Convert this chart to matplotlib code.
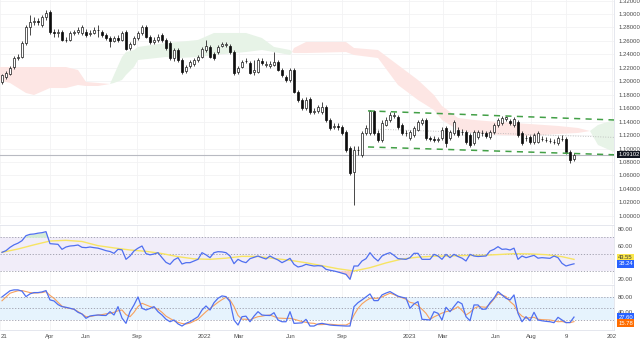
import numpy as np
import matplotlib
matplotlib.use("Agg")
import matplotlib.pyplot as plt
from matplotlib.transforms import blended_transform_factory as blend, offset_copy

plt.rcParams['font.family'] = ['Liberation Sans', 'DejaVu Sans']

# ---------------- data (weekly candles) ----------------
opens = [
1.1990, 1.2064, 1.2108, 1.2212, 1.2346, 1.2361, 1.2569, 1.2807, 1.2881, 1.2896,
1.2837, 1.2955, 1.3030, 1.2733, 1.2718, 1.2733, 1.2614, 1.2614, 1.2718, 1.2733,
1.2718, 1.2733, 1.2703, 1.2718, 1.2762, 1.2733, 1.2688, 1.2643, 1.2599, 1.2643,
1.2614, 1.2733, 1.2495, 1.2554, 1.2643, 1.2718, 1.2807, 1.2658, 1.2584, 1.2614,
1.2688, 1.2614, 1.2569, 1.2346, 1.2465, 1.2316, 1.2153, 1.2227, 1.2257, 1.2316,
1.2361, 1.2465, 1.2510, 1.2406, 1.2435, 1.2524, 1.2539, 1.2524, 1.2435, 1.2138,
1.2212, 1.2302, 1.2272, 1.2138, 1.2138, 1.2302, 1.2242, 1.2227, 1.2242, 1.2287,
1.2168, 1.2064, 1.2019, 1.2168, 1.1841, 1.1722, 1.1603, 1.1737, 1.1544, 1.1559,
1.1544, 1.1618, 1.1425, 1.1321, 1.1336, 1.1321, 1.1247, 1.1009, 1.0652, 1.0979,
1.0905, 1.1232, 1.1232, 1.1559, 1.1232, 1.1128, 1.1351, 1.1425, 1.1484, 1.1470,
1.1351, 1.1232, 1.1157, 1.1202, 1.1276, 1.1380, 1.1425, 1.1157, 1.1143, 1.1128,
1.1157, 1.1306, 1.1157, 1.1232, 1.1276, 1.1247, 1.1247, 1.1202, 1.1083, 1.1172,
1.1232, 1.1232, 1.1172, 1.1247, 1.1351, 1.1380, 1.1440, 1.1410, 1.1351, 1.1395,
1.1232, 1.1157, 1.1172, 1.1098, 1.1098, 1.1143, 1.1128, 1.1113, 1.1098, 1.1083,
1.1143, 1.1143, 1.0949, 1.0845]

closes = [
1.2094, 1.2123, 1.2198, 1.2346, 1.2361, 1.2569, 1.2807, 1.2881, 1.2896, 1.2881,
1.2955, 1.3015, 1.2733, 1.2718, 1.2733, 1.2614, 1.2610, 1.2718, 1.2733, 1.2762,
1.2807, 1.2688, 1.2718, 1.2762, 1.2755, 1.2688, 1.2643, 1.2599, 1.2643, 1.2614,
1.2718, 1.2480, 1.2554, 1.2643, 1.2718, 1.2807, 1.2658, 1.2584, 1.2614, 1.2658,
1.2614, 1.2495, 1.2346, 1.2465, 1.2316, 1.2138, 1.2212, 1.2287, 1.2316, 1.2361,
1.2480, 1.2524, 1.2361, 1.2346, 1.2510, 1.2554, 1.2554, 1.2435, 1.2123, 1.2198,
1.2287, 1.2298, 1.2123, 1.2168, 1.2316, 1.2272, 1.2257, 1.2257, 1.2287, 1.2168,
1.2094, 1.2019, 1.2168, 1.1841, 1.1722, 1.1603, 1.1722, 1.1544, 1.1559, 1.1618,
1.1618, 1.1425, 1.1306, 1.1336, 1.1321, 1.1232, 1.0979, 1.0637, 1.0979, 1.0975,
1.1232, 1.1306, 1.1559, 1.1232, 1.1128, 1.1380, 1.1425, 1.1499, 1.1499, 1.1321,
1.1232, 1.1228, 1.1247, 1.1306, 1.1395, 1.1425, 1.1157, 1.1143, 1.1128, 1.1132,
1.1276, 1.1083, 1.1247, 1.1395, 1.1202, 1.1243, 1.1098, 1.1053, 1.1247, 1.1247,
1.1228, 1.1187, 1.1247, 1.1351, 1.1425, 1.1455, 1.1470, 1.1380, 1.1440, 1.1202,
1.1083, 1.1153, 1.1098, 1.1202, 1.1232, 1.1139, 1.1124, 1.1109, 1.1094, 1.1157,
1.1139, 1.0949, 1.0830, 1.0910]

highs = [
1.2108, 1.2153, 1.2227, 1.2376, 1.2406, 1.2599, 1.2837, 1.2985, 1.2955, 1.2941,
1.2985, 1.3059, 1.3059, 1.2777, 1.2777, 1.2762, 1.2658, 1.2747, 1.2762, 1.2807,
1.2837, 1.2777, 1.2762, 1.2807, 1.2837, 1.2762, 1.2718, 1.2673, 1.2673, 1.2688,
1.2747, 1.2762, 1.2584, 1.2673, 1.2747, 1.2837, 1.2837, 1.2688, 1.2658, 1.2703,
1.2718, 1.2643, 1.2599, 1.2495, 1.2495, 1.2346, 1.2242, 1.2316, 1.2346, 1.2391,
1.2510, 1.2614, 1.2539, 1.2435, 1.2539, 1.2584, 1.2584, 1.2554, 1.2465, 1.2227,
1.2316, 1.2346, 1.2302, 1.2316, 1.2346, 1.2346, 1.2302, 1.2302, 1.2435, 1.2316,
1.2198, 1.2094, 1.2198, 1.2198, 1.1871, 1.1752, 1.1767, 1.1767, 1.1603, 1.1648,
1.1692, 1.1648, 1.1455, 1.1380, 1.1380, 1.1351, 1.1276, 1.1038, 1.1038, 1.1038,
1.1261, 1.1351, 1.1573, 1.1573, 1.1276, 1.1425, 1.1470, 1.1544, 1.1544, 1.1499,
1.1380, 1.1276, 1.1276, 1.1336, 1.1425, 1.1455, 1.1455, 1.1187, 1.1187, 1.1172,
1.1321, 1.1336, 1.1276, 1.1425, 1.1321, 1.1291, 1.1276, 1.1232, 1.1276, 1.1276,
1.1276, 1.1261, 1.1276, 1.1380, 1.1455, 1.1484, 1.1484, 1.1440, 1.1470, 1.1425,
1.1261, 1.1202, 1.1202, 1.1232, 1.1261, 1.1187, 1.1172, 1.1157, 1.1143, 1.1187,
1.1202, 1.1172, 1.0979, 1.0934]

lows = [
1.1960, 1.2034, 1.2094, 1.2183, 1.2316, 1.2346, 1.2539, 1.2688, 1.2837, 1.2837,
1.2807, 1.2911, 1.2703, 1.2658, 1.2658, 1.2599, 1.2584, 1.2599, 1.2688, 1.2703,
1.2688, 1.2658, 1.2673, 1.2703, 1.2658, 1.2658, 1.2614, 1.2510, 1.2584, 1.2584,
1.2599, 1.2465, 1.2465, 1.2539, 1.2614, 1.2688, 1.2643, 1.2554, 1.2554, 1.2584,
1.2584, 1.2465, 1.2316, 1.2302, 1.2287, 1.2108, 1.2123, 1.2198, 1.2227, 1.2287,
1.2346, 1.2435, 1.2346, 1.2316, 1.2406, 1.2510, 1.2510, 1.2406, 1.2094, 1.2108,
1.2198, 1.2272, 1.2108, 1.2094, 1.2123, 1.2242, 1.2212, 1.2198, 1.2227, 1.2153,
1.2064, 1.1990, 1.1990, 1.1826, 1.1692, 1.1573, 1.1573, 1.1514, 1.1514, 1.1529,
1.1514, 1.1395, 1.1276, 1.1291, 1.1276, 1.1202, 1.0949, 1.0608, 1.0162, 1.0905,
1.0875, 1.1202, 1.1202, 1.1202, 1.1098, 1.1098, 1.1336, 1.1395, 1.1455, 1.1291,
1.1202, 1.1187, 1.1128, 1.1172, 1.1261, 1.1351, 1.1128, 1.1113, 1.1098, 1.1098,
1.1128, 1.1024, 1.1128, 1.1202, 1.1172, 1.1202, 1.1068, 1.1024, 1.1053, 1.1143,
1.1187, 1.1157, 1.1143, 1.1217, 1.1321, 1.1351, 1.1410, 1.1351, 1.1321, 1.1172,
1.1053, 1.1113, 1.1068, 1.1068, 1.1083, 1.1113, 1.1098, 1.1083, 1.1068, 1.1053,
1.1113, 1.0920, 1.0786, 1.0816]

last_price = 1.09102

# Ichimoku cloud (leading spans), sampled at bar positions
cloud_bars = [-1, 2, 6, 8, 12, 16, 19, 21, 24, 27, 28, 30, 31, 33, 34, 41, 44, 49, 53,
              61, 65, 68, 72, 72.5, 73, 76, 86, 88, 94, 99, 104, 108, 110, 114, 118,
              124, 132, 139, 144, 147, 149, 153]
lead_a = [1.2019, 1.1975, 1.1826, 1.1796, 1.1900, 1.1900, 1.1945, 1.1930, 1.1930, 1.1960,
          1.2094, 1.2361, 1.2435, 1.2465, 1.2510, 1.2569, 1.2584, 1.2614, 1.2718,
          1.2718, 1.2643, 1.2510, 1.2465, 1.2435, 1.2420, 1.2420, 1.2435, 1.2391, 1.2346,
          1.1945, 1.1722, 1.1573, 1.1425, 1.1276, 1.1232, 1.1202, 1.1187, 1.1217, 1.1232,
          1.1261, 1.1351, 1.1425]
lead_b = [1.2212, 1.2212, 1.2212, 1.2212, 1.2212, 1.2212, 1.2168, 1.1990, 1.1975, 1.1960,
          1.1975, 1.2019, 1.2094, 1.2212, 1.2316, 1.2361, 1.2346, 1.2361, 1.2391,
          1.2435, 1.2465, 1.2435, 1.2391, 1.2435, 1.2495, 1.2584, 1.2584, 1.2495, 1.2465,
          1.2242, 1.2019, 1.1796, 1.1633, 1.1455, 1.1425, 1.1395, 1.1365, 1.1336, 1.1306,
          1.1261, 1.1053, 1.0949]

# descending channel drawn on the chart
channel_bars = [91.5, 153]
channel_upper = [1.1560, 1.1425]
channel_lower = [1.1024, 1.0908]

# RSI and its moving average
rsi = [
52, 54, 58, 61, 63, 66, 72, 73.6, 74, 75,
75.6, 76.8, 62.4, 62, 61.6, 55.6, 58.4, 59.6, 60, 60.8,
58, 57.6, 58.4, 57.6, 57, 55.6, 54, 53, 50.8, 55.6,
55, 43.6, 47.6, 53.6, 57, 59.6, 50.4, 49, 50, 51.6,
45.6, 40, 37.6, 43, 45.6, 38, 39.6, 39.6, 41.6, 43.6,
51.6, 49, 45.6, 51.6, 52.8, 52.5, 51.6, 47.6, 38.4, 43.6,
41, 39.6, 44.4, 46, 47.6, 45.6, 44, 47.6, 45, 42.8,
39.6, 42, 44.8, 37.6, 34.4, 35.5, 37.6, 36.5, 35.6, 36,
35.6, 31.6, 30.5, 29.6, 28.4, 27, 25.6, 19.6, 35.6, 35.6,
41.6, 44.4, 51.6, 45.6, 41.6, 47.6, 50, 51.6, 48.4, 44.4,
44, 43.6, 45.6, 50.8, 50.8, 43.6, 43.6, 43.6, 49.6, 47.6,
43.6, 49.6, 45.6, 49.6, 47, 45, 41.6, 49.6, 47.6, 47,
47.3, 47.6, 53.6, 55.6, 58.8, 55.6, 56, 54.8, 57, 43.6,
47.6, 45.6, 47, 48.4, 45, 45.6, 45.2, 44.8, 47.6, 45.6,
38.8, 35.6, 37, 38.24]
rsi_ma_bars = [0, 4, 8, 12, 16, 20, 24, 28, 32, 36, 40, 44, 48, 52, 56, 60, 64, 68, 72,
               76, 80, 84, 88, 92, 96, 100, 104, 108, 112, 116, 120, 124, 128, 132,
               136, 140, 143]
rsi_ma = [52, 56, 61, 65.6, 66.4, 65, 60, 57.3, 54.8, 53.2, 50.5, 46.8, 44.2, 43.6, 45,
          47.2, 47, 44.6, 42.5, 39.5, 36, 32.3, 29.6, 33.6, 39.3, 44, 46.2, 47.4, 47.6,
          48.2, 48.4, 49.3, 50.4, 50.1, 49.2, 46.8, 43.55]

# Stochastic %K and %D
stoch_k = [
80, 88, 96, 98.3, 98.3, 95, 80.8, 88, 91.3, 91.3,
93, 96.5, 72.2, 69.6, 60, 54.7, 53, 50.5, 48, 40,
35.6, 24.4, 30.4, 32, 33, 32, 31.7, 41.6, 33, 54.7,
25, 11.3, 41.6, 59.1, 80, 50.5, 46, 50, 54.7, 41.6,
33, 22, 15.5, 20, 10, 4.3, 11.3, 15.5, 22, 28.6,
46, 56.5, 46, 65, 76.5, 82.6, 80.8, 67.8, 20, 6.9,
28.6, 30, 15.5, 30, 41.6, 33, 32, 31.7, 39, 20,
15.5, 15.5, 41.6, 11.3, 12, 12.5, 21.7, 4.3, 4.3, 9.5,
11.3, 9, 6.9, 6, 5.5, 5, 4.3, 4.3, 54.7, 65.1,
72.2, 80, 87.8, 70.4, 70.4, 85.2, 90, 93.8, 87.8, 82,
79.1, 77, 50.5, 61.7, 67.8, 21.7, 21, 20, 41.6, 37.4,
20, 53.1, 41.6, 55, 67.8, 62, 28.6, 18.1, 59.1, 59.1,
47.9, 48.4, 65, 76.5, 93.8, 85, 76.5, 72, 85.2, 37.4,
15.5, 28.6, 18.1, 40, 20, 18, 16.5, 15.5, 13, 27,
20, 13, 13.5, 27.6]
stoch_d = [
70, 80, 89.6, 93, 96, 96.5, 94, 91.3, 90, 90.5,
91.3, 93.8, 84, 76.5, 66, 56, 52, 50, 47.9, 42,
35.6, 28.6, 29, 31, 33, 34, 36, 37.4, 40, 44,
46, 34, 28.6, 40, 55, 63.5, 59.1, 55, 52, 48,
40, 30, 24, 18, 14, 11, 9.5, 12, 17, 22,
32, 41.6, 50, 58, 66, 73, 79.1, 72, 55, 32,
22, 22, 20, 25, 28.6, 30, 32, 33, 29, 25,
24.4, 24, 24.4, 22, 19, 16, 14, 12, 11.3, 8,
8, 9, 9, 8, 7, 6.9, 6.9, 12, 33, 50,
62, 70, 76.5, 76.5, 76.5, 80, 85, 89.6, 86, 81,
78, 74, 66, 63.5, 57, 48, 37.4, 21.7, 28, 33,
38, 41.6, 44, 48, 54.7, 45, 33, 40, 50, 54.7,
54, 53, 62, 75, 87.8, 85, 80.8, 68, 59.1, 40,
30, 24.4, 26, 27, 22, 21, 20.5, 20, 18, 15.5,
16, 14, 13, 15.78]

# time axis labels (bar positions)
time_ticks = [0.4, 12, 21, 33.75, 50.5, 59.25, 72.25, 85, 101.75, 110.25, 123.5, 132.25, 141, 152.5]
time_labels = ['21', 'Apr', 'Jun', 'Sep', '2022', 'Mar', 'Jun', 'Sep', '2023', 'Mar', 'Jun', 'Aug', '9', '202']
grid_ticks = [-0.5] + time_ticks[1:]

price_ticks = [1.00, 1.02, 1.04, 1.06, 1.08, 1.10, 1.12, 1.14, 1.16, 1.18, 1.20,
               1.22, 1.24, 1.26, 1.28, 1.30, 1.32]
rsi_ticks = [80, 60, 20]
stoch_ticks = [80, 40]

# ---------------- figure ----------------
W, H = 640, 343
fig = plt.figure(figsize=(W / 100, H / 100), dpi=100)
R = 614 / W
ax = fig.add_axes([0, 1 - 224 / H, R, 224 / H])
ax_r = fig.add_axes([0, 1 - 284 / H, R, 59 / H])
ax_s = fig.add_axes([0, 1 - 330 / H, R, 45 / H])

SEP = '#e0e3eb'
TXT = '#4a4a4a'
for a in (ax, ax_r, ax_s):
    a.set_xlim(-0.5, 153)
    for s in a.spines.values():
        s.set_visible(False)
    a.spines['right'].set_visible(True)
    a.spines['right'].set_color(SEP)
    a.spines['right'].set_linewidth(0.6)
    a.yaxis.tick_right()
    a.tick_params(axis='y', length=0, pad=3, labelsize=4.3, labelcolor=TXT)
    a.tick_params(axis='x', length=0)
    for t in grid_ticks:
        a.axvline(t, color='#f2f2f4', lw=0.6, zorder=0)
for a in (ax_r, ax_s):
    a.spines['top'].set_visible(True)
    a.spines['top'].set_color(SEP)
    a.spines['top'].set_linewidth(0.6)
ax_s.spines['bottom'].set_visible(True)
ax_s.spines['bottom'].set_color(SEP)
ax_s.spines['bottom'].set_linewidth(0.6)

# ---- main price pane ----
ax.set_ylim(0.9879, 1.3208)
ax.set_yticks(price_ticks)
ax.set_yticklabels([f'{v:.5f}' for v in price_ticks])
for v in price_ticks:
    ax.axhline(v, color='#f2f2f4', lw=0.6, zorder=0)
ax.set_xticks([])

cb = np.array(cloud_bars, float)
la = np.array(lead_a)
lb = np.array(lead_b)
ax.fill_between(cb, la, lb, where=la >= lb, interpolate=True, color='#e7f3e7', lw=0, zorder=1)
ax.fill_between(cb, la, lb, where=la < lb, interpolate=True, color='#fde6e4', lw=0, zorder=1)

o = np.array(opens); c = np.array(closes); hi = np.array(highs); lo = np.array(lows)
x = np.arange(len(c))
up = c >= o
body_lo = np.minimum(o, c)
body_h = np.maximum(np.abs(c - o), 0.0007)
ax.vlines(x, lo, hi, color='#2a2a2a', lw=0.6, zorder=3)
ax.bar(x[up], body_h[up], bottom=body_lo[up], width=0.62, color='white',
       edgecolor='#1a1a1a', linewidth=0.5, zorder=4)
ax.bar(x[~up], body_h[~up], bottom=body_lo[~up], width=0.62, color='#0d0d0d',
       edgecolor='#0d0d0d', linewidth=0.5, zorder=4)

ax.axhline(last_price, color='#b8bac2', lw=0.8, zorder=2)

ax.plot(channel_bars, channel_upper, color='#43a047', lw=1.1, ls=(0, (4, 3.5)), zorder=5)
ax.plot(channel_bars, channel_lower, color='#43a047', lw=1.1, ls=(0, (4, 3.5)), zorder=5)
ax.plot(channel_bars, [(u + l) / 2 for u, l in zip(channel_upper, channel_lower)],
        color='#b0b0b0', lw=0.6, ls=(0, (1, 2)), zorder=2)


def vlabel(a, val, txt, fc, tc, dy=0):
    tr = offset_copy(blend(a.transAxes, a.transData), fig=fig, x=0, y=dy, units='dots')
    a.text(1.007, val, txt, transform=tr, ha='left', va='center', fontsize=4.2,
           color=tc, clip_on=False, zorder=10,
           bbox=dict(boxstyle='square,pad=0.22', fc=fc, ec='none'))


vlabel(ax, last_price, '1.09102', '#131722', 'white')

# ---- RSI pane ----
ax_r.set_ylim(14, 84.8)
ax_r.set_yticks(rsi_ticks)
ax_r.set_yticklabels([f'{v:.2f}' for v in rsi_ticks])
ax_r.set_xticks([])
ax_r.axhspan(30, 70, color='#f1edf9', lw=0, zorder=0)
for v in (70, 50, 30):
    ax_r.axhline(v, color='#9a9aa8', lw=0.6, ls=(0, (1.5, 2)), zorder=1)
ra = np.array(rsi, float)
ax_r.fill_between(x, ra, 70, where=ra > 70, interpolate=True, color='#d5ecd6', lw=0, zorder=1)
ax_r.fill_between(x, ra, 30, where=ra < 30, interpolate=True, color='#f8cfca', lw=0, zorder=1)
ax_r.plot(rsi_ma_bars, rsi_ma, color='#f7e463', lw=1.0, zorder=2)
ax_r.plot(x, ra, color='#4f6ff0', lw=0.9, zorder=3)
vlabel(ax_r, rsi_ma[-1], f'{rsi_ma[-1]:.2f}', '#fbe74b', '#333333', dy=2)
vlabel(ax_r, rsi[-1], f'{rsi[-1]:.2f}', '#2962ff', 'white', dy=0)

# ---- Stochastic pane ----
ax_s.set_ylim(-6, 111)
ax_s.set_yticks(stoch_ticks)
ax_s.set_yticklabels([f'{v:.2f}' for v in stoch_ticks])
ax_s.axhspan(20, 80, color='#e6f3fd', lw=0, zorder=0)
for v in (80, 50, 20):
    ax_s.axhline(v, color='#9a9aa8', lw=0.6, ls=(0, (1.5, 2)), zorder=1)
ax_s.plot(x, stoch_d, color='#f7a15e', lw=0.8, zorder=2)
ax_s.plot(x, stoch_k, color='#4f6ff0', lw=0.9, zorder=3)
vlabel(ax_s, stoch_k[-1], f'{stoch_k[-1]:.2f}', '#2962ff', 'white', dy=0)
vlabel(ax_s, stoch_d[-1], f'{stoch_d[-1]:.2f}', '#ff6d00', 'white', dy=-1.5)

ax_s.set_xticks(time_ticks)
ax_s.set_xticklabels(time_labels)
ax_s.tick_params(axis='x', labelsize=4.3, labelcolor=TXT, pad=3)

fig.savefig('out.png', dpi=100, facecolor='white')
